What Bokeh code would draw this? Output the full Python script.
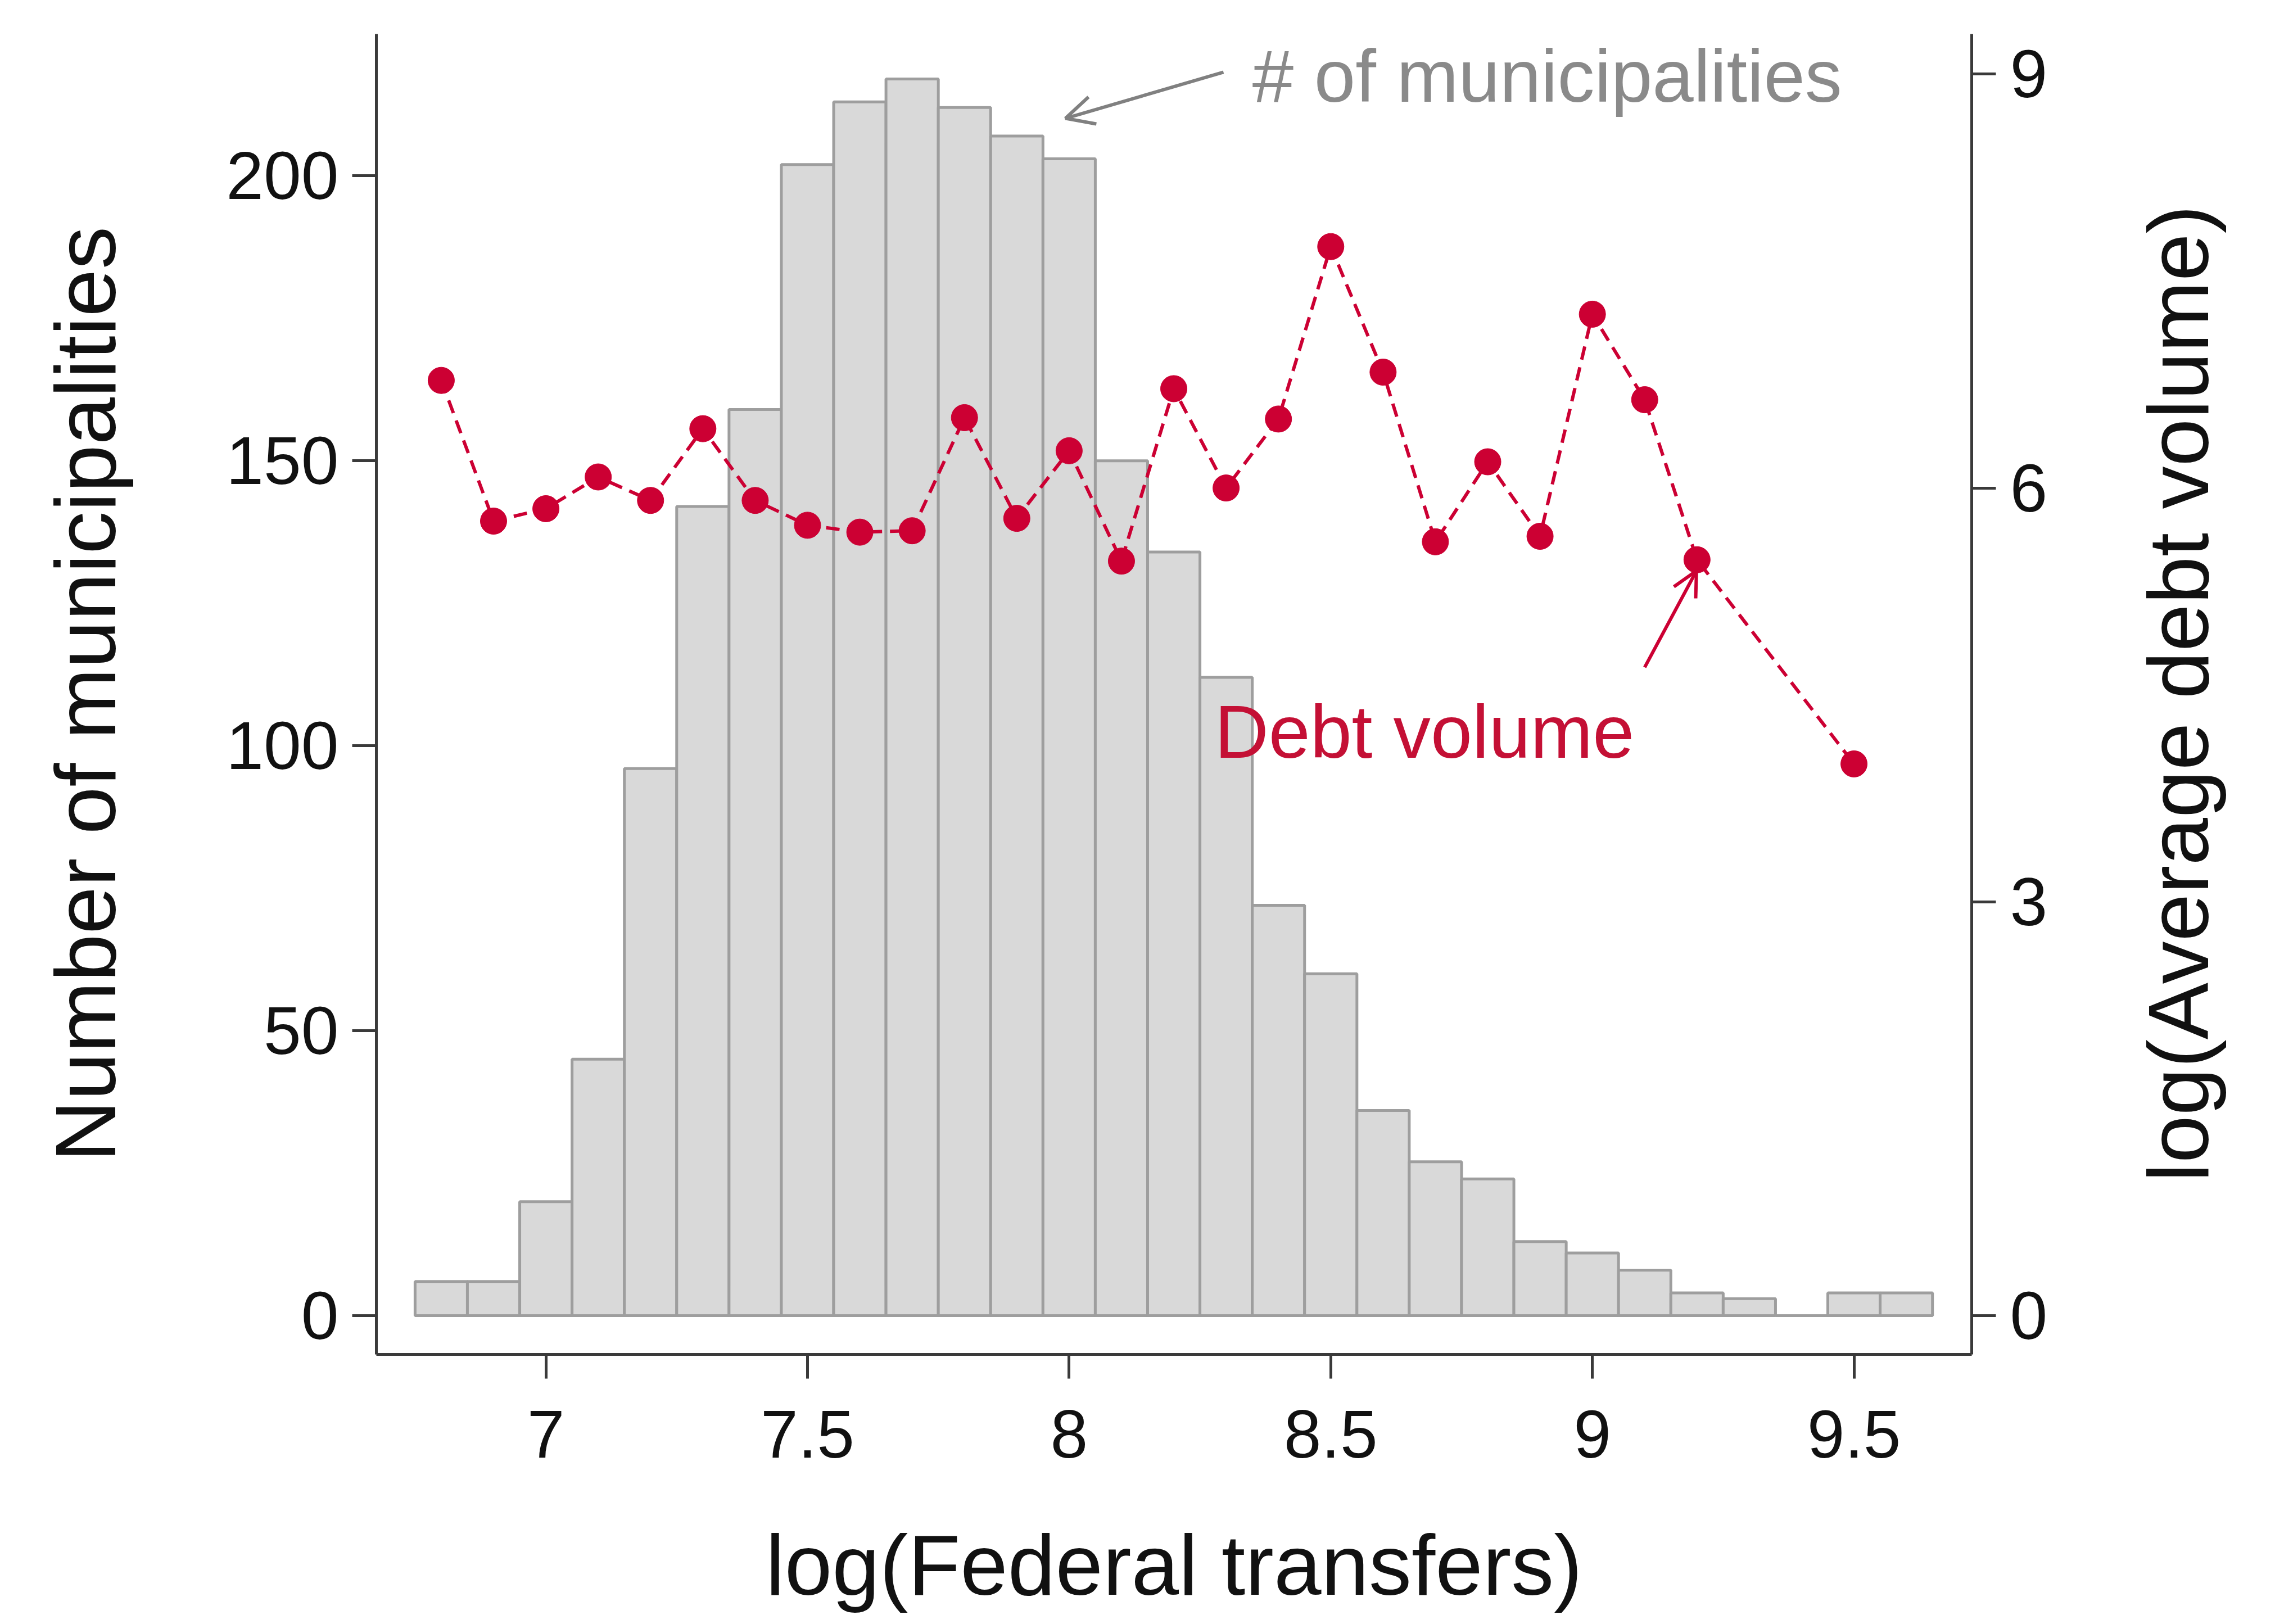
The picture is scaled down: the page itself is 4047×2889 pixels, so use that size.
import math
from bokeh.plotting import figure
from bokeh.layouts import row
from bokeh.core.properties import value
from bokeh.models import (Range1d, LinearAxis, FixedTicker, Arrow, OpenHead,
                          Label, ColumnDataSource)
from bokeh.embed import file_html
from bokeh.resources import INLINE

# ---------------- data ----------------
bin_centers = [6.8, 6.9, 7.0, 7.1, 7.2, 7.3, 7.4, 7.5, 7.6, 7.7, 7.8, 7.9, 8.0,
               8.1, 8.2, 8.3, 8.4, 8.5, 8.6, 8.7, 8.8, 8.9, 9.0, 9.1, 9.2, 9.3,
               9.4, 9.5, 9.6]
counts = [6, 6, 20, 45, 96, 142, 159, 202, 213, 217, 212, 207, 203,
          150, 134, 112, 72, 60, 36, 27, 24, 13, 11, 8, 4, 3,
          0, 4, 4]
bin_width = 0.1

debt_x = [6.8, 6.9, 7.0, 7.1, 7.2, 7.3, 7.4, 7.5, 7.6, 7.7, 7.8, 7.9, 8.0,
          8.1, 8.2, 8.3, 8.4, 8.5, 8.6, 8.7, 8.8, 8.9, 9.0, 9.1, 9.2, 9.5]
debt_y = [6.78, 5.76, 5.85, 6.08, 5.91, 6.43, 5.91, 5.73, 5.68, 5.69, 6.51,
          5.78, 6.27, 5.47, 6.72, 6.00, 6.50, 7.75, 6.84, 5.61, 6.19, 5.65,
          7.26, 6.64, 5.48, 4.00]

x_ticks = [7, 7.5, 8, 8.5, 9, 9.5]
x_tick_labels = ["7", "7.5", "8", "8.5", "9", "9.5"]
left_ticks = [0, 50, 100, 150, 200]
right_ticks = [0, 3, 6, 9]

x_title = "log(Federal transfers)"
left_title = "Number of municipalities"
right_title = "log(Average debt volume)"
hist_note = "# of municipalities"
debt_note = "Debt volume"

# ---------------- style ----------------
FONT = "Liberation Sans"
RED = "#cc0033"
GRAY_TXT = "#8a8a8a"
AX = "#3a3a3a"

W_MAIN = 3790
W_SIDE = 241
H = 2873

p = figure(width=W_MAIN, height=H, output_backend="svg", toolbar_location=None,
           x_range=Range1d(6.676, 9.725), y_range=Range1d(-6.8, 224.9),
           min_border_left=669, min_border_right=W_MAIN - 3507,
           min_border_top=60, min_border_bottom=464, title=None)
p.extra_y_ranges = {"debt": Range1d(-0.281, 9.291)}
p.xgrid.visible = False
p.ygrid.visible = False
p.outline_line_color = None
p.background_fill_color = "white"
p.border_fill_color = "white"

src = ColumnDataSource(dict(
    left=[c - bin_width / 2 for c in bin_centers],
    right=[c + bin_width / 2 for c in bin_centers],
    top=counts,
    bottom=[0] * len(counts),
))
p.quad(left="left", right="right", top="top", bottom="bottom", source=src,
       fill_color="#d9d9d9", line_color="#9e9e9e", line_width=5)

p.line(debt_x, debt_y, y_range_name="debt", line_color=RED, line_width=6,
       line_dash="24 14")
p.scatter(debt_x, debt_y, y_range_name="debt", size=47, fill_color=RED,
          line_color=RED, line_width=1)

right_axis = LinearAxis(y_range_name="debt")
p.add_layout(right_axis, "right")


def style(ax, ticks, standoff, title, title_standoff):
    ax.ticker = FixedTicker(ticks=ticks)
    ax.axis_line_color = AX
    ax.axis_line_width = 5
    ax.major_tick_line_color = AX
    ax.major_tick_line_width = 5
    ax.major_tick_out = 43
    ax.major_tick_in = 0
    ax.minor_tick_line_color = None
    ax.major_label_text_font = FONT
    ax.major_label_text_font_size = "120px"
    ax.major_label_text_color = "#111111"
    ax.major_label_standoff = standoff
    if title:
        ax.axis_label = title
        ax.axis_label_text_font = FONT
        ax.axis_label_text_font_size = "152px"
        ax.axis_label_text_font_style = "normal"
        ax.axis_label_text_color = "#111111"
        ax.axis_label_standoff = title_standoff


style(p.xaxis[0], x_ticks, 57, x_title, 103)
p.xaxis[0].major_label_overrides = dict(zip(x_ticks, x_tick_labels))
style(p.yaxis[0], left_ticks, 24, left_title, 162)
style(right_axis, right_ticks, 25, None, 0)

# annotations
p.add_layout(Label(x=8.35, y=217.5, text=hist_note, text_font=FONT,
                   text_font_size="132px", text_color=GRAY_TXT,
                   text_baseline="alphabetic", text_align="left"))
p.add_layout(Arrow(x_start=8.295, y_start=218.2, x_end=7.993, y_end=210.1,
                   line_color="#808080", line_width=6,
                   end=OpenHead(size=50, line_color="#808080", line_width=6)))

p.add_layout(Label(x=8.278, y=4.23, y_range_name="debt", text=debt_note,
                   text_font=FONT, text_font_size="133px", text_color="#c41035",
                   text_baseline="alphabetic", text_align="left"))
p.add_layout(Arrow(x_start=9.10, y_start=4.70, x_end=9.199, y_end=5.40,
                   y_range_name="debt", line_color=RED, line_width=6,
                   end=OpenHead(size=44, line_color=RED, line_width=6)))

# side strip holding the right-hand axis title (reads bottom to top)
side = figure(width=W_SIDE, height=H, output_backend="svg", toolbar_location=None,
              x_range=Range1d(0, W_SIDE), y_range=Range1d(0, H),
              min_border=0, title=None, x_axis_type=None, y_axis_type=None)
side.xgrid.visible = False
side.ygrid.visible = False
side.outline_line_color = None
side.background_fill_color = "white"
side.border_fill_color = "white"
side.text(x=[84], y=[1438], text=[right_title], angle=math.pi / 2,
          text_font=value(FONT), text_font_size=value("152px"),
          text_color="#111111", text_align="center", text_baseline="middle")

layout = row(p, side)
open("out.html", "w").write(file_html(layout, INLINE))
